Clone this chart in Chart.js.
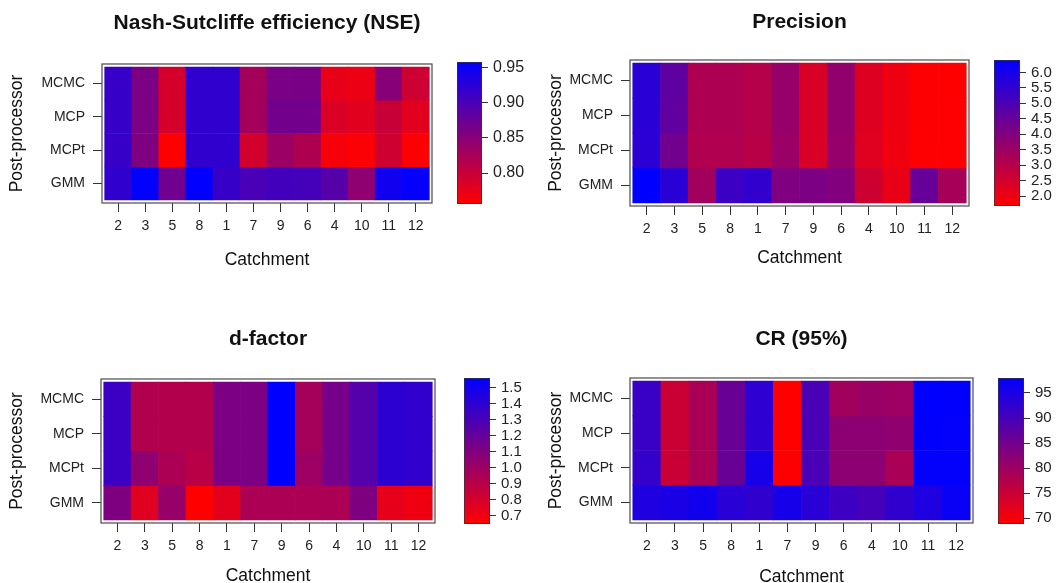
<!DOCTYPE html>
<html lang="en">
<head>
<meta charset="UTF-8" />
<title>Post-processor performance per catchment</title>
<script src="https://cdn.jsdelivr.net/npm/chart.js"></script>
<style>
  body { margin: 0; width: 1056px; height: 583px; overflow: hidden; background: #fff; position: relative; }
  canvas { position: absolute; }
</style>
</head>
<body>
<script>
  // categories
  const catchments = ['2', '3', '5', '8', '1', '7', '9', '6', '4', '10', '11', '12'];
  const postProcessors = ['MCMC', 'MCP', 'MCPt', 'GMM'];

  // Nash-Sutcliffe efficiency
  const nseMCMC = [0.915, 0.86, 0.79, 0.92, 0.92, 0.828, 0.861, 0.863, 0.775, 0.772, 0.85, 0.795];
  const nseMCP  = [0.915, 0.86, 0.79, 0.92, 0.92, 0.828, 0.868, 0.868, 0.785, 0.78, 0.80, 0.78];
  const nseMCPt = [0.915, 0.858, 0.756, 0.92, 0.92, 0.792, 0.835, 0.82, 0.763, 0.759, 0.795, 0.757];
  const nseGMM  = [0.92, 0.958, 0.87, 0.957, 0.915, 0.90, 0.906, 0.903, 0.89, 0.845, 0.945, 0.955];
  const nseTicks = [0.80, 0.85, 0.90, 0.95];

  // Precision
  const precMCMC = [5.65, 4.65, 3.2, 3.2, 3.05, 3.6, 2.4, 3.7, 2.3, 2.0, 1.72, 1.68];
  const precMCP  = [5.65, 4.6, 3.2, 3.2, 3.05, 3.6, 2.4, 3.7, 2.3, 2.0, 1.72, 1.7];
  const precMCPt = [5.6, 4.3, 3.15, 3.15, 3.0, 3.55, 2.4, 3.65, 2.25, 1.95, 1.7, 1.69];
  const precGMM  = [6.40, 5.65, 3.4, 5.3, 5.5, 4.05, 4.1, 4.0, 2.6, 2.1, 4.5, 3.3];
  const precTicks = [2.0, 2.5, 3.0, 3.5, 4.0, 4.5, 5.0, 5.5, 6.0];

  // d-factor
  const dfMCMC = [1.35, 0.93, 0.92, 0.92, 1.12, 1.12, 1.56, 0.97, 1.14, 1.26, 1.40, 1.38];
  const dfMCP  = [1.35, 0.93, 0.92, 0.92, 1.12, 1.12, 1.56, 0.97, 1.14, 1.26, 1.40, 1.38];
  const dfMCPt = [1.35, 1.05, 0.95, 0.90, 1.12, 1.12, 1.56, 1.00, 1.14, 1.26, 1.40, 1.38];
  const dfGMM  = [1.11, 0.76, 1.02, 0.65, 0.75, 0.95, 0.95, 0.95, 0.95, 1.11, 0.74, 0.71];
  const dfTicks = [0.7, 0.8, 0.9, 1.0, 1.1, 1.2, 1.3, 1.4, 1.5];

  // CR (95%)
  const crMCMC = [91.5, 74.9, 78.7, 86, 92.7, 68.8, 89.5, 79.5, 80.5, 80, 98.0, 97.8];
  const crMCP  = [91.5, 74.9, 78.7, 86, 92.7, 68.8, 89.5, 82, 82, 81.5, 97.8, 97.6];
  const crMCPt = [92, 75, 78.7, 86, 95.5, 69, 89.5, 82, 82, 78.5, 97.7, 97.6];
  const crGMM  = [94.4, 95, 96, 93.3, 92.5, 95.5, 93.3, 91, 90, 92.5, 94.4, 97];
  const crTicks = [70, 75, 80, 85, 90, 95];

  Chart.defaults.font.family = '"Liberation Sans", Arial, Helvetica, sans-serif';
  Chart.defaults.color = '#1a1a1a';

  function redBlue(f) {
    return 'rgb(' + Math.round(255 * (1 - f)) + ',0,' + Math.round(255 * f) + ')';
  }

  function addCanvas(left, top, width, height) {
    const c = document.createElement('canvas');
    c.width = width; c.height = height;
    c.style.left = left + 'px'; c.style.top = top + 'px';
    c.style.width = width + 'px'; c.style.height = height + 'px';
    document.body.appendChild(c);
    return c;
  }

  // box around the image area
  const frame = {
    id: 'frame',
    afterDatasetsDraw(chart) {
      const { ctx, chartArea: a } = chart;
      ctx.save();
      ctx.strokeStyle = '#4a4a4a';
      ctx.lineWidth = 1.2;
      ctx.strokeRect(a.left, a.top, a.right - a.left, a.bottom - a.top);
      ctx.restore();
    }
  };

  function heatmap(p, title, rows) {
    const all = rows.flat();
    const lo = Math.min(...all), hi = Math.max(...all);
    const yw = p.yAxisW;
    const left = p.L - yw, width = (p.R - p.L) + 2 * yw;
    const top = p.top, bottom = p.xTitleY + 12;
    const canvas = addCanvas(left, top, width, bottom - top);
    const tPadTop = p.titleY - top - 12.6;
    const tPadBottom = p.T - top - tPadTop - 25.2;

    new Chart(canvas, {
      type: 'bar',
      data: {
        datasets: postProcessors.map((name, r) => ({
          label: name,
          data: catchments.map((c, i) => ({ x: i, y: [r, r + 1] })),
          backgroundColor: rows[r].map(v => redBlue((v - lo) / (hi - lo))),
          borderWidth: 0,
          barPercentage: 1,
          categoryPercentage: 1,
          grouped: false
        }))
      },
      options: {
        responsive: false,
        animation: false,
        layout: { autoPadding: false, padding: 0 },
        plugins: {
          legend: { display: false },
          tooltip: { enabled: false },
          title: {
            display: true, text: title, color: '#111',
            font: { size: 21, weight: 'bold' },
            padding: { top: tPadTop, bottom: tPadBottom }
          }
        },
        scales: {
          x: {
            type: 'linear', min: -0.6, max: 11.6, offset: false,
            afterBuildTicks: s => { s.ticks = catchments.map((c, i) => ({ value: i })); },
            afterFit: s => { s.height = bottom - p.B; },
            ticks: { callback: v => catchments[v], autoSkip: false, maxRotation: 0, padding: 6, color: '#222', font: { size: 14 } },
            grid: { offset: false, drawOnChartArea: false, tickLength: 9, color: '#333' },
            border: { display: false },
            title: { display: true, text: 'Catchment', color: '#111', font: { size: 17.5 }, padding: { top: 0, bottom: 1.5 } }
          },
          y: {
            type: 'linear', reverse: true, min: -0.09, max: 4.09,
            afterBuildTicks: s => { s.ticks = postProcessors.map((n, r) => ({ value: r + 0.5 })); },
            afterFit: s => { s.width = yw; },
            ticks: { callback: v => postProcessors[Math.floor(v)], autoSkip: false, padding: 8, color: '#222', font: { size: 14 } },
            grid: { drawOnChartArea: false, tickLength: 9, color: '#333' },
            border: { display: false },
            title: { display: true, text: 'Post-processor', color: '#111', font: { size: 17.5 }, padding: { top: p.yTitleX - left - 10.5, bottom: 0 } }
          },
          // empty right-hand axis, keeps the plot centred under its title
          yRight: {
            type: 'linear', position: 'right', min: 0, max: 1,
            afterFit: s => { s.width = yw; },
            ticks: { display: false },
            grid: { display: false },
            border: { display: false }
          }
        }
      },
      plugins: [frame]
    });
  }

  function colorbar(c, rows, tickValues, decimals, fontSize) {
    const all = rows.flat();
    const lo = Math.min(...all), hi = Math.max(...all);
    const pad = 20, width = 80;
    const canvas = addCanvas(c.L, c.T - pad, width, c.B - c.T + 2 * pad);

    new Chart(canvas, {
      type: 'bar',
      data: {
        labels: [''],
        datasets: [{
          data: [[lo, hi]],
          backgroundColor: ctx => {
            const a = ctx.chart.chartArea;
            if (!a) return redBlue(0.5);
            const g = ctx.chart.ctx.createLinearGradient(0, a.bottom, 0, a.top);
            g.addColorStop(0, redBlue(0));
            g.addColorStop(1, redBlue(1));
            return g;
          },
          borderColor: '#333',
          borderWidth: 1,
          borderSkipped: false,
          barPercentage: 1,
          categoryPercentage: 1
        }]
      },
      options: {
        responsive: false,
        animation: false,
        layout: { autoPadding: false, padding: { left: 0, right: 0, top: pad, bottom: pad } },
        plugins: { legend: { display: false }, tooltip: { enabled: false } },
        scales: {
          x: { display: false },
          y: {
            position: 'right', min: lo, max: hi,
            afterBuildTicks: s => { s.ticks = tickValues.map(v => ({ value: v })); },
            afterFit: s => { s.width = width - (c.R - c.L); },
            ticks: { callback: v => v.toFixed(decimals), autoSkip: false, padding: 5, color: '#222', font: { size: fontSize } },
            grid: { drawOnChartArea: false, tickLength: 6, color: '#333' },
            border: { display: false }
          }
        }
      }
    });
  }

  const nseRows = [nseMCMC, nseMCP, nseMCPt, nseGMM];
  const precRows = [precMCMC, precMCP, precMCPt, precGMM];
  const dfRows = [dfMCMC, dfMCP, dfMCPt, dfGMM];
  const crRows = [crMCMC, crMCP, crMCPt, crGMM];

  heatmap({ L: 102, R: 432, T: 64, B: 203, top: 0, titleY: 23, xTitleY: 260, yTitleX: 17, yAxisW: 100 },
    'Nash-Sutcliffe efficiency (NSE)', nseRows);
  heatmap({ L: 630, R: 969, T: 60, B: 206, top: 0, titleY: 22, xTitleY: 258, yTitleX: 556, yAxisW: 90 },
    'Precision', precRows);
  heatmap({ L: 101, R: 435, T: 379, B: 523, top: 310, titleY: 339, xTitleY: 576, yTitleX: 17, yAxisW: 99 },
    'd-factor', dfRows);
  heatmap({ L: 630, R: 973, T: 378, B: 523, top: 310, titleY: 339, xTitleY: 577, yTitleX: 556, yAxisW: 90 },
    'CR (95%)', crRows);

  colorbar({ L: 457, R: 482, T: 62, B: 204 }, nseRows, nseTicks, 2, 16);
  colorbar({ L: 994, R: 1020, T: 60, B: 206 }, precRows, precTicks, 1, 15);
  colorbar({ L: 464, R: 490, T: 378, B: 524 }, dfRows, dfTicks, 1, 15);
  colorbar({ L: 998, R: 1024, T: 378, B: 524 }, crRows, crTicks, 0, 15);
</script>
</body>
</html>
